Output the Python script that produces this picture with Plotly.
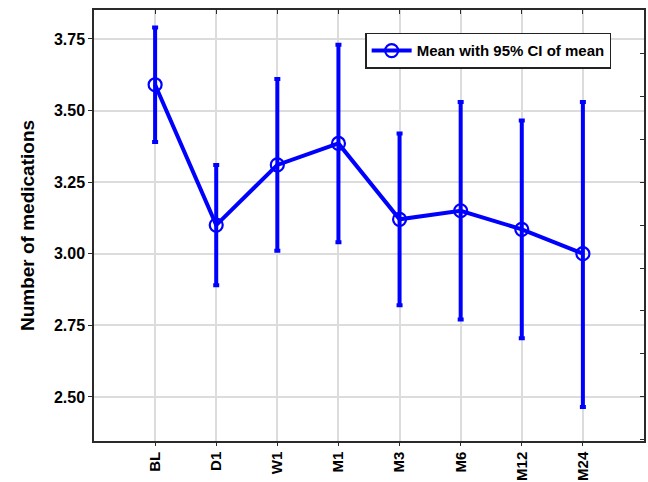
import plotly.graph_objects as go

# Time points and mean number of medications with 95% CI bounds
timepoints = ["BL", "D1", "W1", "M1", "M3", "M6", "M12", "M24"]
mean_values = [3.59, 3.10, 3.31, 3.385, 3.12, 3.15, 3.085, 3.00]
ci_upper = [3.79, 3.31, 3.61, 3.73, 3.42, 3.53, 3.465, 3.53]
ci_lower = [3.39, 2.89, 3.01, 3.04, 2.82, 2.77, 2.705, 2.465]
y_tick_values = [2.50, 2.75, 3.00, 3.25, 3.50, 3.75]

positions = list(range(len(timepoints)))
err_plus = [u - m for u, m in zip(ci_upper, mean_values)]
err_minus = [m - l for m, l in zip(mean_values, ci_lower)]

BLUE = "#0000ff"
FONT = "Arial, Liberation Sans, sans-serif"
Y_RANGE = [2.346, 3.851]
X_RANGE = [-1, len(timepoints)]

fig = go.Figure()

fig.add_trace(go.Scatter(
    x=positions,
    y=mean_values,
    mode="lines+markers",
    name="Mean with 95% CI of mean",
    line=dict(color=BLUE, width=4),
    marker=dict(symbol="circle-open", size=13, color=BLUE, line=dict(width=2.2, color=BLUE)),
    error_y=dict(
        type="data",
        symmetric=False,
        array=err_plus,
        arrayminus=err_minus,
        color=BLUE,
        thickness=4,
        width=3,
    ),
))

# invisible trace carrying the mirrored top/right tick axes
fig.add_trace(go.Scatter(
    x=[positions[0]], y=[mean_values[0]],
    xaxis="x2", yaxis="y2",
    mode="markers", marker=dict(opacity=0),
    showlegend=False, hoverinfo="skip",
))

fig.update_layout(
    width=648,
    height=482,
    margin=dict(l=94, r=4, t=10, b=41),
    paper_bgcolor="white",
    plot_bgcolor="white",
    font=dict(family=FONT, color="#000000"),
    showlegend=True,
    legend=dict(
        x=0.493, y=0.947,
        xanchor="left", yanchor="top",
        bgcolor="white",
        bordercolor="#222222",
        borderwidth=1.5,
        font=dict(family=FONT, size=15, weight="bold", color="#000000"),
        itemwidth=40,
        tracegroupgap=0,
    ),
    xaxis=dict(
        range=X_RANGE,
        automargin=False,
        tickmode="array",
        tickvals=positions,
        ticktext=timepoints,
        tickangle=-90,
        tickfont=dict(family=FONT, size=15, weight="bold", color="#000000"),
        showgrid=True,
        gridcolor="#dcdcdc",
        gridwidth=1.5,
        zeroline=False,
        showline=True,
        linecolor="#2a2a2a",
        linewidth=1.5,
        mirror=True,
        ticks="outside",
        ticklen=3,
        tickcolor="#2a2a2a",
    ),
    yaxis=dict(
        range=Y_RANGE,
        automargin=False,
        tickmode="array",
        tickvals=y_tick_values,
        ticktext=[f"{v:.2f}" for v in y_tick_values],
        tickfont=dict(family=FONT, size=16, weight="bold", color="#000000"),
        title=dict(text="Number of medications",
                   font=dict(family=FONT, size=19, weight="bold", color="#000000"),
                   standoff=14),
        showgrid=True,
        gridcolor="#dcdcdc",
        gridwidth=1.5,
        zeroline=False,
        showline=True,
        linecolor="#2a2a2a",
        linewidth=1.5,
        mirror=True,
        ticks="outside",
        ticklen=4,
        tickcolor="#2a2a2a",
    ),
    xaxis2=dict(
        overlaying="x",
        side="top",
        range=X_RANGE,
        automargin=False,
        tickmode="array",
        tickvals=positions,
        showticklabels=False,
        ticks="inside",
        ticklen=4,
        tickcolor="#2a2a2a",
        showgrid=False,
        zeroline=False,
        showline=False,
    ),
    yaxis2=dict(
        overlaying="y",
        side="right",
        range=Y_RANGE,
        automargin=False,
        tick0=2.5,
        dtick=0.15,
        showticklabels=False,
        ticks="inside",
        ticklen=4,
        tickcolor="#2a2a2a",
        showgrid=False,
        zeroline=False,
        showline=False,
    ),
)

fig.write_html("out.html")
